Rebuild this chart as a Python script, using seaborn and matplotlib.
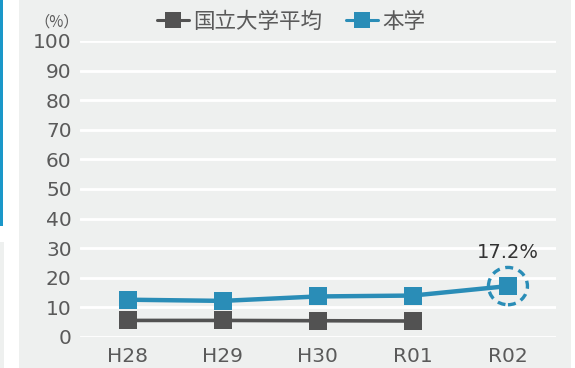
import matplotlib
matplotlib.use("Agg")
import matplotlib.pyplot as plt
from matplotlib.patches import Rectangle, Ellipse
from matplotlib.lines import Line2D
import seaborn as sns
import pandas as pd

# Data
years = ["H28", "H29", "H30", "R01", "R02"]
national_avg = [5.6, 5.6, 5.5, 5.4, None]
our_univ = [12.6, 12.2, 13.7, 14.0, 17.2]
series_names = ["国立大学平均", "本学"]
series_colors = ["#525252", "#2a8db7"]
yticks = [0, 10, 20, 30, 40, 50, 60, 70, 80, 90, 100]

sns.set_theme(style="white")
plt.rcParams["font.family"] = ["DejaVu Sans", "Noto Sans CJK JP"]

BG = "#eef0ef"
W, H = 575, 368
fig = plt.figure(figsize=(W / 100, H / 100), dpi=100, facecolor=BG)

# Side panel decoration on the left and a thin white edge on the right
fig.patches.append(Rectangle((0, 0), 19 / W, 1, transform=fig.transFigure,
                             facecolor="white", edgecolor="none", zorder=0))
fig.patches.append(Rectangle((0, 1 - 226 / H), 3 / W, 226 / H, transform=fig.transFigure,
                             facecolor="#1a97c9", edgecolor="none", zorder=1))
fig.patches.append(Rectangle((0, 0), 4 / W, 1 - 242 / H, transform=fig.transFigure,
                             facecolor=BG, edgecolor="none", zorder=1))
fig.patches.append(Rectangle((571 / W, 0), 4 / W, 1, transform=fig.transFigure,
                             facecolor="white", edgecolor="none", zorder=0))

ax = fig.add_axes([80 / W, 1 - 337 / H, 475.5 / W, 296 / H])
ax.set_facecolor(BG)

df = pd.DataFrame({
    "year": list(range(len(years))) * 2,
    "value": national_avg + our_univ,
    "series": [series_names[0]] * len(years) + [series_names[1]] * len(years),
}).dropna()

for name, color, lw in zip(series_names, series_colors, [2.6, 3.2]):
    sns.lineplot(data=df[df["series"] == name], x="year", y="value", ax=ax,
                 color=color, lw=lw, marker="s", markersize=12.5,
                 markeredgewidth=0, label=name, legend=False, zorder=3)

# Gridlines
for v in yticks:
    ax.axhline(v, color="white", lw=2.0, zorder=1)

ax.set_xlim(-0.5, len(years) - 0.5)
ax.set_ylim(0, 100)
ax.set_yticks(yticks)
ax.set_xticks(range(len(years)))
ax.set_xticklabels(years)
ax.tick_params(axis="both", length=0, labelsize=14.5, colors="#5a5a5a")
ax.tick_params(axis="y", pad=6)
ax.tick_params(axis="x", pad=7)
ax.set_xlabel("")
ax.set_ylabel("")
for s in ax.spines.values():
    s.set_visible(False)
ax.grid(False)

# Unit label
fig.text(57 / W, 1 - 22 / H, "（%）", ha="center", va="center",
         fontsize=11, color="#5a5a5a",
         family=["Noto Sans CJK JP", "DejaVu Sans"])

# Highlight the latest value
last_idx = len(years) - 1
last_val = our_univ[-1]
ax.add_patch(Ellipse((last_idx, last_val), width=0.41, height=12.6,
                     facecolor="none", edgecolor=series_colors[1], lw=2.4,
                     linestyle=(0, (2.4, 1.7)), zorder=4, clip_on=False))
ax.text(last_idx, last_val + 9.5, f"{last_val}%", ha="center", va="baseline",
        fontsize=14, color="#333333")

# Legend
handles = [Line2D([0], [0], color=c, lw=2.2, marker="s", markersize=11,
                  markeredgewidth=0) for c in series_colors]
fig.legend(handles, series_names, loc="center", bbox_to_anchor=(291 / W, 1 - 22 / H),
           ncol=2, frameon=False, handlelength=1.5,
           handletextpad=0.2, columnspacing=1.1,
           labelcolor="#5a5a5a",
           prop={"family": ["Noto Sans CJK JP", "DejaVu Sans"], "size": 15.5})

fig.savefig("out.png", dpi=100, facecolor=BG)
